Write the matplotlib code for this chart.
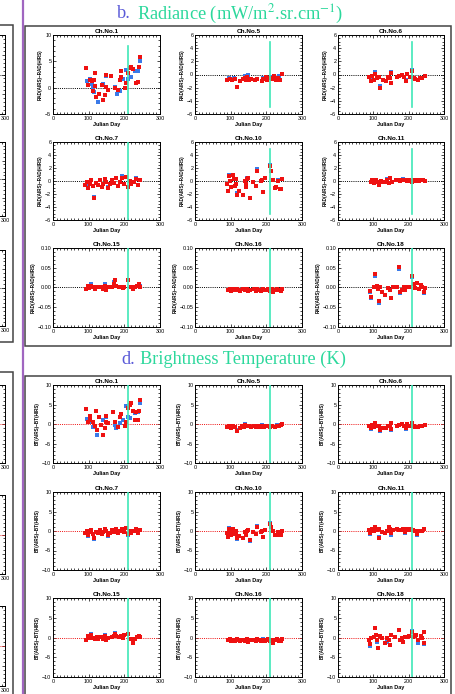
import matplotlib
matplotlib.use("Agg")
import matplotlib.pyplot as plt
from matplotlib.patches import Rectangle
from matplotlib.lines import Line2D
from matplotlib.ticker import MultipleLocator, FuncFormatter

plt.rcParams['font.family'] = ['Liberation Sans', 'DejaVu Sans']
plt.rcParams['mathtext.fontset'] = 'stix'

W, H = 456, 694

# ---------------- data (Julian day, difference) ----------------
channels = [1, 5, 6, 7, 10, 11, 15, 16, 18]

# Radiance panels
b1_red_x = [92, 98, 103, 108, 112, 115, 117, 117, 120, 129, 136, 141, 145, 148, 150, 155, 164, 173, 183, 188, 190, 192, 202, 206, 211, 216, 220, 225, 234, 237, 242, 244]
b1_red_y = [3.8, 0.5, 1.5, 1.2, -0.7, 1.5, 0.4, 2.8, -1.8, -1.2, 0.5, -2.3, -1.3, 2.4, 0.1, -0.4, 2.2, -0.1, -0.4, 1.5, 2.1, 3.1, 0.0, 0.9, 2.8, 3.7, 4.0, 3.6, 0.9, 1.0, 4.0, 5.8]
b1_blue_x = [96, 103, 108, 111, 115, 125, 141, 148, 173, 180, 188, 197, 204, 211, 220, 230, 239, 244]
b1_blue_y = [1.3, 1.6, 0.7, 0.1, -0.9, -2.7, 0.7, 2.2, 0.1, -1.2, -0.7, 1.6, 3.4, 1.7, 2.1, 3.1, 3.1, 5.0]

b5_red_x = [91, 98, 105, 111, 119, 127, 134, 139, 142, 147, 152, 157, 169, 175, 188, 192, 200, 203, 211, 216, 222, 228, 234, 239, 244]
b5_red_y = [-0.8, -0.65, -0.9, -0.7, -1.9, -1.05, -0.7, -0.55, -0.9, -0.4, -0.8, -0.65, -0.8, -0.65, -1.05, -0.7, -0.4, -0.8, -0.55, -0.7, -0.3, -0.8, -0.55, -0.9, 0.1]
b5_blue_x = [94, 108, 140, 150, 190, 215, 236]
b5_blue_y = [-0.5, -0.6, -0.3, -0.1, -0.5, -0.4, -0.3]

b6_red_x = [87, 92, 96, 101, 106, 111, 115, 118, 128, 137, 141, 146, 151, 151, 168, 174, 180, 186, 192, 196, 203, 210, 215, 219, 226, 232, 238, 245]
b6_red_y = [-0.4, -1.0, -0.3, -0.8, 0.1, -0.6, -0.4, -2.1, -0.9, -1.0, -0.4, -0.6, -1.3, 0.2, -0.4, -0.3, -0.1, -0.4, -1.0, 0.1, -0.4, 0.55, -0.5, -0.7, -0.8, -0.6, -0.6, -0.2]
b6_blue_x = [92, 106, 118, 151, 192, 210]
b6_blue_y = [-0.8, 0.4, -1.8, 0.4, -0.8, 0.7]

b7_red_x = [90, 94, 98, 103, 107, 111, 115, 120, 125, 131, 136, 140, 145, 149, 153, 160, 166, 171, 176, 182, 188, 193, 198, 204, 210, 215, 220, 226, 232, 238, 244]
b7_red_y = [-0.6, -0.2, -1.0, -0.4, 0.1, -0.8, -2.6, -0.3, -0.6, 0.2, -0.9, -0.4, 0.3, -0.2, -1.1, -0.5, 0.1, -0.3, 0.4, -0.7, -0.2, 0.5, -0.4, 0.6, -0.9, 0.0, -0.5, -0.2, 0.3, -0.6, 0.1]
b7_blue_x = [98, 115, 153, 193, 232]
b7_blue_y = [-0.8, -2.4, -0.9, 0.7, 0.5]

b10_red_x = [90, 92, 95, 97, 101, 106, 108, 111, 114, 116, 119, 123, 135, 139, 142, 144, 147, 150, 153, 163, 172, 174, 184, 188, 191, 196, 210, 214, 219, 223, 228, 232, 237, 242, 245]
b10_red_y = [-0.5, -1.6, 0.8, 0.0, -0.9, 1.0, 0.3, -0.8, 0.3, -0.5, -2.1, -1.6, -2.2, 0.0, -0.9, -0.4, 0.3, 0.5, -2.6, -0.2, -0.8, 1.6, 0.0, 0.2, -1.7, 0.5, 2.3, 1.5, 0.2, -1.0, -0.9, 0.0, -1.2, -1.2, 0.3]
b10_blue_x = [95, 119, 147, 174, 210, 232]
b10_blue_y = [1.0, -1.9, 0.5, 1.8, 2.5, 0.2]

b11_red_x = [92, 97, 102, 107, 112, 117, 122, 127, 135, 140, 144, 148, 152, 165, 170, 175, 180, 185, 190, 195, 200, 205, 210, 215, 220, 225, 230, 235, 240, 245]
b11_red_y = [-0.2, 0.1, -0.3, 0.2, -0.1, -0.6, 0.0, -0.2, -0.1, 0.1, -0.3, 0.4, -0.1, 0.1, 0.1, 0.0, 0.1, 0.2, 0.1, 0.05, 0.1, 0.0, -0.1, 0.1, 0.0, 0.1, 0.05, 0.1, 0.1, 0.05]
b11_blue_x = [102, 140, 185, 225]
b11_blue_y = [-0.1, 0.3, 0.3, 0.2]

b15_red_x = [92, 97, 102, 107, 112, 117, 122, 127, 135, 140, 145, 150, 155, 165, 170, 173, 178, 185, 190, 195, 200, 211, 220, 225, 230, 235, 240, 245]
b15_red_y = [-0.005, 0.003, -0.002, 0.005, 0.0, -0.004, 0.002, 0.0, 0.001, -0.003, 0.004, -0.006, 0.0, 0.002, 0.008, 0.018, 0.005, 0.0, 0.002, -0.002, 0.0, 0.018, 0.002, -0.004, 0.0, 0.003, 0.01, 0.002]
b15_blue_x = [107, 145, 170, 245]
b15_blue_y = [0.01, 0.01, 0.015, 0.005]

b16_red_x = [92, 97, 102, 107, 112, 117, 122, 127, 135, 140, 145, 150, 155, 165, 170, 175, 180, 185, 190, 195, 200, 205, 210, 215, 220, 225, 230, 235, 240, 245]
b16_red_y = [-0.006, -0.004, -0.008, -0.005, -0.007, -0.003, -0.006, -0.009, -0.005, -0.007, -0.004, -0.010, -0.006, -0.005, -0.008, -0.004, -0.006, -0.009, -0.005, -0.007, -0.006, -0.004, -0.008, -0.005, -0.012, -0.006, -0.004, -0.007, -0.009, -0.003]
b16_blue_x = [102, 150, 190, 220]
b16_blue_y = [-0.006, -0.008, -0.003, -0.010]

b18_red_x = [90, 94, 101, 106, 109, 114, 115, 118, 125, 134, 141, 147, 151, 156, 168, 173, 176, 180, 186, 191, 196, 203, 210, 215, 219, 224, 229, 235, 239, 243, 246]
b18_red_y = [-0.009, -0.023, 0.002, 0.033, 0.004, -0.005, -0.035, 0.0, -0.011, -0.020, -0.002, -0.006, -0.026, 0.0, 0.0, 0.051, -0.011, -0.006, 0.0, -0.006, 0.0, 0.0, 0.030, 0.009, -0.002, 0.011, -0.005, 0.006, 0.002, -0.012, -0.002]
b18_blue_x = [90, 94, 106, 115, 173, 176, 210, 243]
b18_blue_y = [-0.012, -0.026, 0.030, -0.038, 0.047, -0.014, 0.027, -0.015]

# Brightness temperature panels
d1_red_x = [92, 98, 103, 105, 112, 117, 120, 122, 128, 134, 141, 145, 148, 150, 155, 167, 173, 183, 188, 192, 202, 206, 211, 216, 220, 225, 230, 234, 237, 242, 244]
d1_red_y = [3.8, 0.6, 1.1, 2.1, 0.6, -0.6, 3.4, -1.6, 1.9, -0.2, -2.8, -1.1, 2.1, 0.6, 0.2, 3.2, 0.6, -0.8, 1.9, 2.6, -0.5, 0.6, 4.0, 4.9, 5.3, 3.4, 1.1, 3.2, 0.9, 3.4, 6.2]
d1_blue_x = [96, 108, 112, 122, 141, 148, 173, 178, 188, 197, 204, 211, 216, 230, 239, 244]
d1_blue_y = [1.2, 0.6, -0.8, -2.8, 1.1, 1.9, -0.2, -1.1, 0.2, 1.1, 4.5, 1.9, 1.5, 2.8, 3.2, 5.5]

d5_red_x = [91, 96, 101, 106, 111, 119, 125, 131, 136, 141, 146, 151, 157, 165, 170, 176, 182, 188, 193, 199, 205, 211, 217, 223, 229, 235, 240, 245]
d5_red_y = [-0.7, -0.5, -0.9, -0.6, -0.8, -1.9, -1.0, -0.5, -0.8, -0.3, -0.6, -0.4, -0.7, -0.5, -0.7, -0.6, -0.8, -0.5, -0.7, -0.4, -0.6, -0.8, -0.5, -0.7, -0.4, -0.6, -0.3, 0.0]
d5_blue_x = [101, 119, 141, 188, 229]
d5_blue_y = [-0.6, -1.6, -0.1, -0.3, -0.2]

d6_red_x = [87, 92, 96, 101, 106, 111, 115, 118, 128, 137, 141, 146, 151, 151, 168, 174, 180, 186, 192, 196, 203, 210, 215, 219, 226, 232, 238, 245]
d6_red_y = [-0.5, -1.0, -0.3, -0.8, 0.2, -0.6, -0.4, -1.6, -0.9, -1.0, -0.4, -0.6, -1.2, 0.2, -0.4, -0.3, -0.1, -0.4, -0.9, 0.1, -0.4, 0.3, -0.5, -0.7, -0.8, -0.6, -0.6, -0.2]
d6_blue_x = [92, 118, 151, 192]
d6_blue_y = [-1.2, -1.9, -1.5, -1.2]

d7_red_x = [90, 94, 98, 103, 107, 111, 115, 120, 125, 131, 136, 140, 145, 149, 153, 160, 166, 171, 176, 182, 188, 193, 198, 204, 210, 215, 220, 226, 232, 238, 244]
d7_red_y = [-0.5, -0.1, -0.9, -0.3, 0.2, -0.7, -1.8, -0.2, -0.5, 0.3, -0.8, -0.3, 0.4, -0.1, -1.0, -0.4, 0.2, -0.2, 0.5, -0.6, -0.1, 0.6, -0.3, 0.7, -0.8, 0.1, -0.4, -0.1, 0.4, -0.5, 0.2]
d7_blue_x = [98, 115, 153, 210]
d7_blue_y = [-1.2, -2.1, -1.3, -1.1]

d10_red_x = [90, 92, 95, 97, 101, 106, 108, 111, 114, 116, 119, 123, 135, 139, 142, 144, 147, 150, 153, 163, 172, 174, 184, 188, 191, 196, 210, 214, 219, 223, 228, 232, 237, 242, 245]
d10_red_y = [-0.6, -1.5, 0.4, -0.2, -0.9, 0.6, 0.0, -0.8, 0.1, -0.5, -1.8, -1.4, -1.9, -0.2, -0.9, -0.5, 0.1, 0.2, -2.2, -0.3, -0.8, 1.1, -0.2, 0.0, -1.5, 0.3, 1.7, 1.0, 0.0, -1.0, -0.9, -0.2, -1.1, -1.1, 0.1]
d10_blue_x = [95, 119, 153, 174, 210]
d10_blue_y = [0.7, -2.1, -2.5, 1.4, 2.0]

d11_red_x = [87, 91, 96, 101, 105, 110, 115, 117, 124, 133, 138, 143, 146, 150, 155, 166, 173, 179, 185, 191, 194, 202, 208, 213, 218, 224, 230, 237, 243]
d11_red_y = [0.2, -0.4, 0.4, 0.0, 0.9, 0.2, 0.5, -1.9, -0.2, -0.5, 0.0, 1.1, 0.6, -0.6, 0.2, 0.4, 0.2, 0.2, 0.4, -0.2, 0.4, 0.2, 0.6, 0.2, 0.0, -0.8, 0.0, 0.0, 0.4]
d11_blue_x = [91, 117, 150, 191, 224]
d11_blue_y = [-0.7, -1.6, -0.9, -0.5, -1.1]

d15_red_x = [92, 97, 102, 107, 112, 117, 122, 127, 135, 140, 145, 150, 155, 165, 170, 173, 178, 185, 190, 195, 200, 211, 220, 225, 230, 235, 240, 245]
d15_red_y = [-0.6, 0.3, -0.2, 0.6, 0.0, -0.4, 0.2, -0.5, 0.1, -0.3, 0.4, -0.6, 0.0, 0.2, 0.5, 1.0, 0.4, 0.1, 0.3, -0.2, 0.6, 0.8, -0.3, -1.4, -0.5, 0.2, 0.5, 0.1]
d15_blue_x = [107, 145, 173, 211]
d15_blue_y = [0.9, 0.7, 1.2, 1.0]

d16_red_x = [92, 97, 102, 107, 112, 117, 122, 127, 135, 140, 145, 150, 155, 165, 170, 175, 180, 185, 190, 195, 200, 205, 210, 215, 220, 225, 230, 235, 240, 245]
d16_red_y = [-0.7, -0.5, -0.9, -0.6, -0.8, -0.4, -0.7, -1.0, -0.6, -0.8, -0.5, -1.1, -0.7, -0.6, -0.9, -0.5, -0.7, -1.0, -0.6, -0.8, -0.7, -0.5, -0.9, -0.6, -1.3, -0.7, -0.5, -0.8, -1.0, -0.4]
d16_blue_x = [102, 150, 190, 220]
d16_blue_y = [-0.6, -0.8, -0.3, -1.0]

d18_red_x = [87, 91, 94, 101, 105, 108, 111, 114, 119, 124, 133, 140, 144, 148, 150, 162, 173, 176, 180, 185, 190, 194, 202, 209, 213, 218, 222, 227, 234, 237, 243, 244]
d18_red_y = [-0.6, -1.7, -0.2, 0.2, 2.3, 0.6, -0.6, -2.6, 0.4, -0.2, -1.3, -0.2, -0.6, -1.9, 0.6, 0.2, 1.9, -0.6, -0.2, -1.1, 0.2, 0.2, 0.4, 1.5, 0.2, 0.4, 0.6, -0.6, 0.4, -0.2, 1.5, -1.5]
d18_blue_x = [91, 111, 140, 209, 227, 244]
d18_blue_y = [-2.2, -1.1, -1.1, 1.7, -1.5, -1.7]

# axis ranges per channel
rad_ylim = {1: (-5, 10), 5: (-6, 6), 6: (-6, 6), 7: (-6, 6), 10: (-6, 6), 11: (-6, 6),
            15: (-0.1, 0.1), 16: (-0.1, 0.1), 18: (-0.1, 0.1)}
rad_major = {1: 5, 5: 2, 6: 2, 7: 2, 10: 2, 11: 2, 15: 0.05, 16: 0.05, 18: 0.05}
rad_minor = {1: 1, 5: 0.5, 6: 0.5, 7: 0.5, 10: 0.5, 11: 0.5, 15: 0.01, 16: 0.01, 18: 0.01}
rad_fmt = {1: '%d', 5: '%d', 6: '%d', 7: '%d', 10: '%d', 11: '%d', 15: '%.2f', 16: '%.2f', 18: '%.2f'}
# vertical marker line (day, ymin, ymax) in radiance panels
vline_day = 210
rad_vline = {1: (-5, 8), 5: (-5, 5), 6: (-5, 5), 7: (-6, 6), 10: (-5, 5), 11: (-5, 5),
             15: (-0.1, 0.1), 16: (-0.1, 0.1), 18: (-0.1, 0.1)}

rad_data = [(b1_red_x, b1_red_y, b1_blue_x, b1_blue_y), (b5_red_x, b5_red_y, b5_blue_x, b5_blue_y),
            (b6_red_x, b6_red_y, b6_blue_x, b6_blue_y), (b7_red_x, b7_red_y, b7_blue_x, b7_blue_y),
            (b10_red_x, b10_red_y, b10_blue_x, b10_blue_y), (b11_red_x, b11_red_y, b11_blue_x, b11_blue_y),
            (b15_red_x, b15_red_y, b15_blue_x, b15_blue_y), (b16_red_x, b16_red_y, b16_blue_x, b16_blue_y),
            (b18_red_x, b18_red_y, b18_blue_x, b18_blue_y)]
bt_data = [(d1_red_x, d1_red_y, d1_blue_x, d1_blue_y), (d5_red_x, d5_red_y, d5_blue_x, d5_blue_y),
           (d6_red_x, d6_red_y, d6_blue_x, d6_blue_y), (d7_red_x, d7_red_y, d7_blue_x, d7_blue_y),
           (d10_red_x, d10_red_y, d10_blue_x, d10_blue_y), (d11_red_x, d11_red_y, d11_blue_x, d11_blue_y),
           (d15_red_x, d15_red_y, d15_blue_x, d15_blue_y), (d16_red_x, d16_red_y, d16_blue_x, d16_blue_y),
           (d18_red_x, d18_red_y, d18_blue_x, d18_blue_y)]

# ---------------- styling ----------------
RED = '#ee1111'
BLUE = '#3a7ae8'
TEAL = '#3fe8b8'
TITLE_BLUE = '#5a5ad8'
TITLE_TEAL = '#2cd89c'
PURPLE = '#a066c0'

fig = plt.figure(figsize=(W / 100, H / 100), dpi=100)
fig.patch.set_facecolor('white')


def rect(x0, y0, x1, y1):
    return [x0 / W, 1 - y1 / H, (x1 - x0) / W, (y1 - y0) / H]


def fx(x):
    return x / W


def fy(y):
    return 1 - y / H


def make_fmt(fmt):
    return FuncFormatter(lambda v, p: (fmt % v).replace('-', '\u2212'))


def style_axes(ax, ylim, major, minor, fmt):
    ax.set_xlim(0, 300)
    ax.set_ylim(*ylim)
    ax.xaxis.set_major_locator(MultipleLocator(100))
    ax.xaxis.set_minor_locator(MultipleLocator(10))
    ax.yaxis.set_major_locator(MultipleLocator(major))
    ax.yaxis.set_minor_locator(MultipleLocator(minor))
    ax.yaxis.set_major_formatter(make_fmt(fmt))
    ax.tick_params(which='both', direction='in', top=True, right=True, width=0.5,
                   labelsize=3.9, pad=1.2, colors='black')
    ax.tick_params(which='major', length=2.4)
    ax.tick_params(which='minor', length=1.2)
    for sp in ax.spines.values():
        sp.set_linewidth(0.7)


cols = [(53, 160), (195, 302), (338, 444)]
rows_b = [(35, 114), (142, 220), (248, 327)]
rows_d = [(385, 463), (492, 570), (598, 677)]


def draw_panel(ax, ch, data, ylim, major, minor, fmt, zero_color, vl, ylabel):
    style_axes(ax, ylim, major, minor, fmt)
    rx, ry, bx, by = data
    ax.scatter(bx, by, s=7.5, marker='s', color=BLUE, linewidths=0, zorder=3)
    ax.scatter(rx, ry, s=7.5, marker='s', color=RED, linewidths=0, zorder=4)
    ax.axhline(0, color=zero_color, lw=0.7, ls=(0, (1, 1.2)), zorder=2)
    ax.plot([vline_day, vline_day], vl, color=TEAL, lw=1.2, zorder=5)
    ax.set_title('Ch.No.%d' % ch, fontsize=4.6, pad=1.5, fontweight='bold')
    ax.set_xlabel('Julian Day', fontsize=4.0, labelpad=1.0, fontweight='bold')
    ax.set_ylabel(ylabel, fontsize=3.3, labelpad=1.5, fontweight='bold')


for i, ch in enumerate(channels):
    r, c = divmod(i, 3)
    x0, x1 = cols[c]
    y0, y1 = rows_b[r]
    ax = fig.add_axes(rect(x0, y0, x1, y1))
    draw_panel(ax, ch, rad_data[i], rad_ylim[ch], rad_major[ch], rad_minor[ch], rad_fmt[ch],
               'black', rad_vline[ch], 'RAD(AIRS)\u2212RAD(HIRS)')
    y0, y1 = rows_d[r]
    ax = fig.add_axes(rect(x0, y0, x1, y1))
    draw_panel(ax, ch, bt_data[i], (-10, 10), 5, 1, '%d', RED, (-10, 10), 'BT(AIRS)\u2212BT(HIRS)')

# partial panels cut off at the left edge
left_rows_top = [(35, 114), (142, 216), (250, 326)]
left_rows_bot = [(385, 463), (495, 574), (606, 686)]
for (y0, y1) in left_rows_top + left_rows_bot:
    ax = fig.add_axes(rect(-100, y0, 5, y1))
    style_axes(ax, (-10, 10), 5, 1, '%d')
    ax.set_yticklabels([])
    ax.set_xticks([300])
    ax.set_xticklabels(['300'])
    zc = RED if y0 > 350 else 'black'
    ax.axhline(0, color=zc, lw=0.7, ls=(0, (1, 1.2)))

# boxes
for (x0, y0, x1, y1) in [(25, 26, 451, 346), (25, 376, 451, 700), (-20, 25, 13, 342), (-20, 372, 13, 700)]:
    fig.patches.append(Rectangle((fx(x0), fy(y1)), fx(x1) - fx(x0), fy(y0) - fy(y1),
                                 transform=fig.transFigure, fill=False, edgecolor='#444444', lw=1.1))
# purple divider
fig.add_artist(Line2D([fx(23), fx(23)], [0, 1], color=PURPLE, lw=1.6, transform=fig.transFigure))

# section titles
fig.text(fx(117), fy(14), 'b.', color=TITLE_BLUE, fontsize=13.2, family='Liberation Serif', va='center')
fig.text(fx(137), fy(14), 'Radiance (mW/m$^2$.sr.cm$^{-1}$)', color=TITLE_TEAL, fontsize=13.2,
         family='Liberation Serif', va='center')
fig.text(fx(121), fy(359), 'd.', color=TITLE_BLUE, fontsize=13.2, family='Liberation Serif', va='center')
fig.text(fx(140), fy(359), 'Brightness Temperature (K)', color=TITLE_TEAL, fontsize=13.2,
         family='Liberation Serif', va='center')

fig.savefig('out.png', dpi=100)
